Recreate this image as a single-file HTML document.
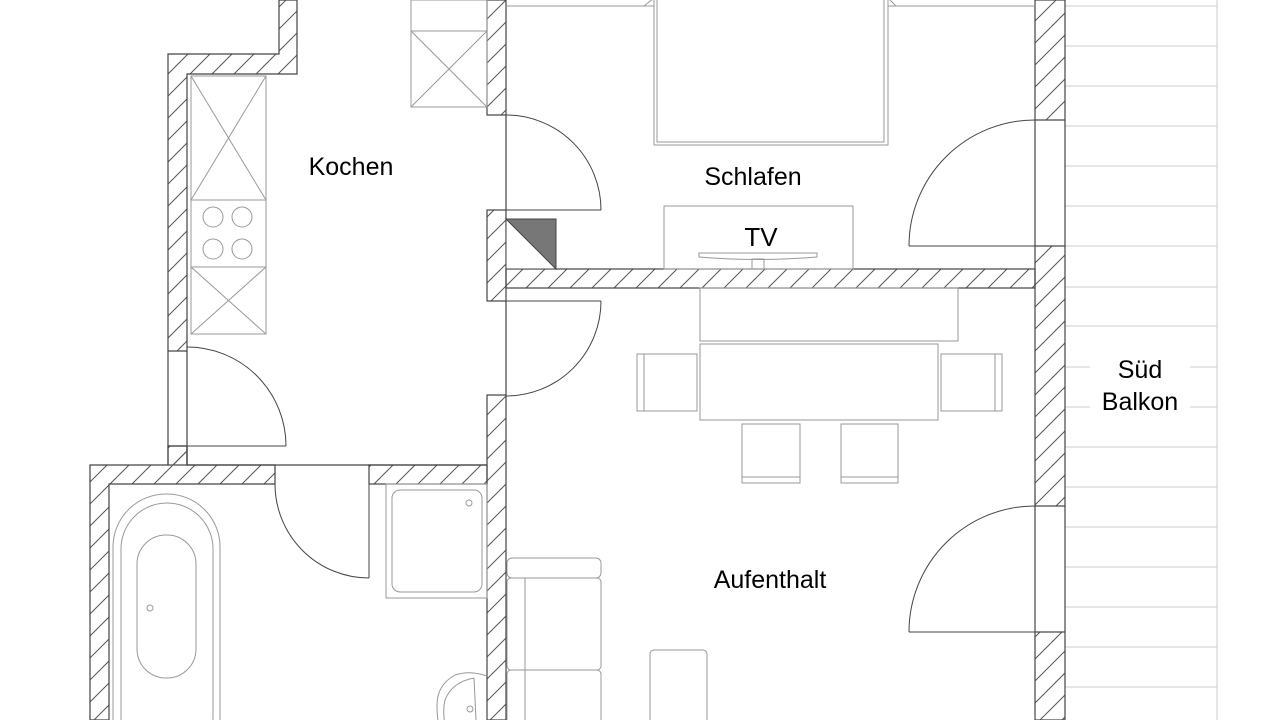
<!DOCTYPE html>
<html><head><meta charset="utf-8"><style>
html,body{margin:0;padding:0;background:#fff;width:1280px;height:720px;overflow:hidden;}
svg{display:block;}
text{font-family:"Liberation Sans",sans-serif;fill:#000;}
</style></head><body>
<svg width="1280" height="720" viewBox="0 0 1280 720" xmlns="http://www.w3.org/2000/svg" overflow="hidden">
<defs>
<pattern id="h" patternUnits="userSpaceOnUse" width="22" height="22">
<line x1="0" y1="22" x2="22" y2="0" stroke="#555" stroke-width="1"/>
<line x1="-2" y1="2" x2="2" y2="-2" stroke="#555" stroke-width="1"/>
<line x1="20" y1="24" x2="24" y2="20" stroke="#555" stroke-width="1"/>
</pattern>
<clipPath id="c"><rect width="1280" height="720"/></clipPath>
</defs>
<g clip-path="url(#c)">
<rect width="1280" height="720" fill="#fff"/>

<!-- balcony -->
<g stroke="#ccc" stroke-width="1">
<line x1="1065" y1="6" x2="1217" y2="6"/>
<line x1="1065" y1="46" x2="1217" y2="46"/>
<line x1="1065" y1="86" x2="1217" y2="86"/>
<line x1="1065" y1="126" x2="1217" y2="126"/>
<line x1="1065" y1="166" x2="1217" y2="166"/>
<line x1="1065" y1="206" x2="1217" y2="206"/>
<line x1="1065" y1="246" x2="1217" y2="246"/>
<line x1="1065" y1="287" x2="1217" y2="287"/>
<line x1="1065" y1="326" x2="1217" y2="326"/>
<line x1="1065" y1="367" x2="1090" y2="367"/><line x1="1190" y1="367" x2="1217" y2="367"/>
<line x1="1065" y1="407" x2="1090" y2="407"/><line x1="1190" y1="407" x2="1217" y2="407"/>
<line x1="1065" y1="447" x2="1217" y2="447"/>
<line x1="1065" y1="487" x2="1217" y2="487"/>
<line x1="1065" y1="527" x2="1217" y2="527"/>
<line x1="1065" y1="567" x2="1217" y2="567"/>
<line x1="1065" y1="607" x2="1217" y2="607"/>
<line x1="1065" y1="647" x2="1217" y2="647"/>
<line x1="1065" y1="687" x2="1217" y2="687"/>
<line x1="1217" y1="0" x2="1217" y2="720"/>
</g>

<!-- walls -->
<g fill="url(#h)" stroke="#444" stroke-width="1.2">
<polygon points="168,54 279,54 279,0 297,0 297,74 187,74 187,351 168,351"/>
<rect x="168" y="446" width="19" height="19"/>
<polygon points="90,465 168,465 168,446 187,446 187,465 275,465 275,484 109,484 109,720 90,720"/>
<rect x="369" y="465" width="118" height="19"/>
<rect x="487" y="0" width="19" height="115"/>
<rect x="487" y="210" width="19" height="91"/>
<rect x="487" y="395" width="19" height="325"/>
<rect x="506" y="269" width="529" height="19"/>
<rect x="1035" y="0" width="30" height="120"/>
<rect x="1035" y="246" width="30" height="260"/>
<rect x="1035" y="632" width="30" height="88"/>
</g>
<g stroke="#444" stroke-width="1.2" fill="none">
<line x1="187" y1="465" x2="487" y2="465"/>
<line x1="187" y1="351" x2="187" y2="465"/>
<line x1="1035" y1="120" x2="1035" y2="246"/><line x1="1065" y1="120" x2="1065" y2="246"/>
<line x1="1035" y1="506" x2="1035" y2="632"/><line x1="1065" y1="506" x2="1065" y2="632"/>
<line x1="168" y1="351" x2="168" y2="446"/>
<line x1="506" y1="115" x2="506" y2="210"/>
<line x1="506" y1="301" x2="506" y2="395"/>
</g>

<!-- doors -->
<g stroke="#444" stroke-width="1" fill="none">
<line x1="168" y1="351" x2="187" y2="351"/>
<line x1="168" y1="446" x2="286" y2="446"/>
<path d="M187,347 A99,99 0 0 1 286,446"/>
<line x1="487" y1="115" x2="506" y2="115"/>
<line x1="487" y1="210" x2="601" y2="210"/>
<path d="M506,115 A95,95 0 0 1 601,210"/>
<line x1="487" y1="301" x2="601" y2="301"/>
<line x1="487" y1="395" x2="506" y2="395"/>
<path d="M601,301 A95,95 0 0 1 506,396"/>
<line x1="275" y1="465" x2="275" y2="484"/>
<line x1="369" y1="465" x2="369" y2="578"/>
<path d="M275,484 A94,94 0 0 0 369,578"/>
<line x1="1035" y1="120" x2="1065" y2="120"/>
<line x1="909" y1="246" x2="1065" y2="246"/>
<path d="M909,246 A126,126 0 0 1 1035,120"/>
<line x1="1035" y1="506" x2="1065" y2="506"/>
<line x1="909" y1="632" x2="1065" y2="632"/>
<path d="M909,632 A126,126 0 0 1 1035,506"/>
</g>

<!-- triangle -->
<rect x="506" y="219" width="50" height="50" fill="#fff" stroke="#444"/>
<polygon points="506,219 556,219 556,269" fill="#777" stroke="#444"/>

<!-- kitchen furniture -->
<g stroke="#999" stroke-width="1" fill="none">
<rect x="191" y="76" width="75" height="258"/>
<line x1="191" y1="200" x2="266" y2="200"/>
<line x1="191" y1="267" x2="266" y2="267"/>
<line x1="191" y1="76" x2="266" y2="200"/><line x1="266" y1="76" x2="191" y2="200"/>
<line x1="191" y1="267" x2="266" y2="334"/><line x1="266" y1="267" x2="191" y2="334"/>
<circle cx="213" cy="217" r="10"/><circle cx="242" cy="217" r="10"/>
<circle cx="213" cy="249" r="10"/><circle cx="242" cy="249" r="10"/>
<rect x="411" y="0" width="76" height="107"/>
<line x1="411" y1="31" x2="487" y2="31"/>
<line x1="411" y1="31" x2="487" y2="107"/><line x1="487" y1="31" x2="411" y2="107"/>
</g>

<!-- bedroom -->
<g stroke="#999" stroke-width="1" fill="none">
<rect x="654" y="-2" width="234" height="147"/>
<rect x="657" y="-2" width="227" height="144"/>
<line x1="507" y1="6" x2="654" y2="6"/><line x1="888" y1="6" x2="1035" y2="6"/>
<line x1="644" y1="6" x2="654" y2="-2"/><line x1="888" y1="-2" x2="896" y2="6"/>
<rect x="664" y="206" width="189" height="63"/>
<path d="M699,253 L817,253 L817,257 Q758,262 699,257 Z"/>
<rect x="752" y="259" width="12" height="10"/>
</g>

<!-- living -->
<g stroke="#999" stroke-width="1" fill="none">
<rect x="700" y="288" width="258" height="53"/>
<rect x="700" y="344" width="238" height="76"/>
<rect x="637" y="354" width="60" height="57"/><line x1="644" y1="354" x2="644" y2="411"/>
<rect x="941" y="354" width="61" height="57"/><line x1="995" y1="354" x2="995" y2="411"/>
<rect x="742" y="424" width="58" height="59"/><line x1="742" y1="477" x2="800" y2="477"/>
<rect x="841" y="424" width="57" height="59"/><line x1="841" y1="477" x2="898" y2="477"/>
<rect x="650" y="650" width="57" height="80" rx="4"/>
<rect x="507" y="558" width="94" height="20" rx="5"/>
<rect x="507" y="578" width="94" height="92" rx="4"/>
<rect x="507" y="670" width="94" height="60" rx="4"/>
<line x1="525" y1="578" x2="525" y2="720"/>
</g>

<!-- bathroom -->
<g stroke="#999" stroke-width="1" fill="none">
<rect x="386" y="484" width="101" height="114"/>
<rect x="392" y="490" width="90" height="102" rx="8"/>
<circle cx="469" cy="503" r="3"/>
<rect x="113" y="494" width="107" height="280" rx="53"/>
<rect x="121" y="503" width="92" height="260" rx="46"/>
<rect x="137" y="535" width="59" height="143" rx="29"/>
<circle cx="150" cy="608" r="3"/>
<path d="M487,676 Q470,670 455,675 Q437,685 437,705 Q437,720 440,730"/>
<path d="M474,678 Q452,682 445,700 Q442,712 446,730"/>
<line x1="474" y1="678" x2="476" y2="720"/>
<circle cx="470" cy="709" r="3"/>
</g>

<!-- labels -->
<text x="351" y="175" font-size="25" text-anchor="middle">Kochen</text>
<text x="753" y="185" font-size="25" text-anchor="middle">Schlafen</text>
<text x="761" y="246" font-size="26" text-anchor="middle">TV</text>
<text x="770" y="588" font-size="25" text-anchor="middle">Aufenthalt</text>
<text x="1140" y="378" font-size="25" text-anchor="middle">Süd</text>
<text x="1140" y="410" font-size="25" text-anchor="middle">Balkon</text>
</g>
</svg>
</body></html>
